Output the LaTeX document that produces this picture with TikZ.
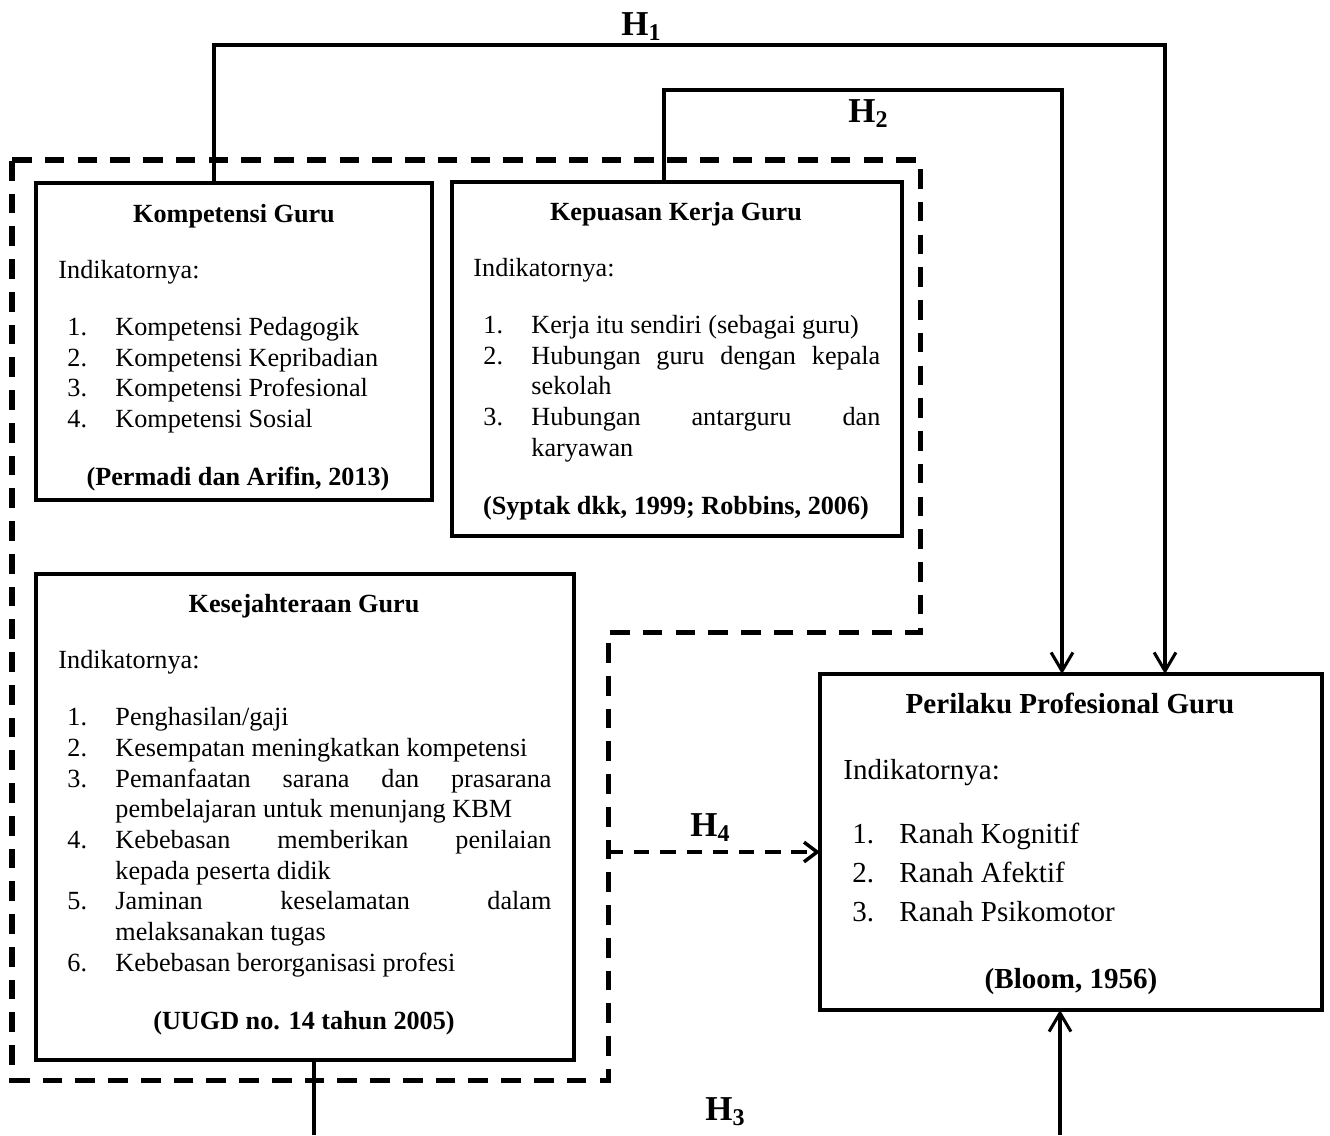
\documentclass[tikz,border=0pt]{standalone}
\usepackage{fontspec}
\setmainfont{Liberation Serif}
\usetikzlibrary{arrows.meta,fit}
\newcommand{\hsub}[1]{\raisebox{-0.17em}{\fontsize{11}{12}\selectfont\bfseries #1}}
\begin{document}
\begin{tikzpicture}[x=0.458pt,y=-0.458pt,
  box/.style={draw,line width=1.8pt,inner sep=0pt,outer sep=0pt},
  conn/.style={line width=1.4pt},
  tip/.style={-{Straight Barb[length=8.5pt,width=10pt]}},
  outline/.style={line width=2.3pt,dash pattern=on 9pt off 6pt},
  hdash/.style={line width=1.6pt,dash pattern=on 7pt off 5pt},
  txt/.style={anchor=base west,inner sep=0pt,font=\fontsize{12}{14}\selectfont},
  ttl/.style={anchor=base,inner sep=0pt,font=\fontsize{12}{14}\selectfont\bfseries},
  ptxt/.style={anchor=base west,inner sep=0pt,font=\fontsize{13.3}{16}\selectfont},
  pttl/.style={anchor=base,inner sep=0pt,font=\fontsize{13.3}{16}\selectfont\bfseries},
  hlab/.style={anchor=base west,inner sep=0pt,font=\fontsize{16}{18}\selectfont\bfseries}
]
\useasboundingbox (0,0) rectangle (1330,1135);

% dashed outline
\draw[outline] (12,160) -- (920,160) -- (920,632) -- (608,632) -- (608,1080) -- (12,1080) -- cycle;

% boxes
\node[box,fit={(36,183) (432,500)}] (komp) {};
\node[box,fit={(452,182) (902,536)}] (kep) {};
\node[box,fit={(36,574) (574,1060)}] (kes) {};
\node[box,fit={(820,674) (1322,1010)}] (peri) {};

% Kompetensi Guru
\node[ttl] (kompT) at (234,222) {Kompetensi Guru};
\node[txt] (kompI) at (58,278) {Indikatornya:};
\node[txt] (kompN1) at (67,335) {1.};
\node[txt] (kompA1) at (115,335) {Kompetensi Pedagogik};
\node[txt] (kompN2) at (67,366) {2.};
\node[txt] (kompA2) at (115,366) {Kompetensi Kepribadian};
\node[txt] (kompN3) at (67,396) {3.};
\node[txt] (kompA3) at (115,396) {Kompetensi Profesional};
\node[txt] (kompN4) at (67,427) {4.};
\node[txt] (kompA4) at (115,427) {Kompetensi Sosial};
\node[ttl] (kompC) at (238,485) {(Permadi dan Arifin, 2013)};

% Kepuasan Kerja Guru
\node[ttl] (kepT) at (676,220) {Kepuasan Kerja Guru};
\node[txt] (kepI) at (473,276) {Indikatornya:};
\node[txt] (kepN1) at (483,333) {1.};
\node[txt] (kepA1) at (531,333) {Kerja itu sendiri (sebagai guru)};
\node[txt] (kepN2) at (483,364) {2.};
\node[txt] (kepA2) at (531,364) {\hbox to 159.8pt{Hubungan\hfill guru\hfill dengan\hfill kepala}};
\node[txt] (kepB2) at (531,394) {sekolah};
\node[txt] (kepN3) at (483,425) {3.};
\node[txt] (kepA3) at (531,425) {\hbox to 159.8pt{Hubungan\hfill antarguru\hfill dan}};
\node[txt] (kepB3) at (531,456) {karyawan};
\node[ttl] (kepC) at (676,514) {(Syptak dkk, 1999; Robbins, 2006)};

% Kesejahteraan Guru
\node[ttl] (kesT) at (304,612) {Kesejahteraan Guru};
\node[txt] (kesI) at (58,668) {Indikatornya:};
\node[txt] (kesN1) at (67,725) {1.};
\node[txt] (kesA1) at (115,725) {Penghasilan/gaji};
\node[txt] (kesN2) at (67,756) {2.};
\node[txt] (kesA2) at (115,756) {Kesempatan meningkatkan kompetensi};
\node[txt] (kesN3) at (67,787) {3.};
\node[txt] (kesA3) at (115,787) {\hbox to 199.7pt{Pemanfaatan\hfill sarana\hfill dan\hfill prasarana}};
\node[txt] (kesB3) at (115,817) {pembelajaran untuk menunjang KBM};
\node[txt] (kesN4) at (67,848) {4.};
\node[txt] (kesA4) at (115,848) {\hbox to 199.7pt{Kebebasan\hfill memberikan\hfill penilaian}};
\node[txt] (kesB4) at (115,879) {kepada peserta didik};
\node[txt] (kesN5) at (67,909) {5.};
\node[txt] (kesA5) at (115,909) {\hbox to 199.7pt{Jaminan\hfill keselamatan\hfill dalam}};
\node[txt] (kesB5) at (115,940) {melaksanakan tugas};
\node[txt] (kesN6) at (67,971) {6.};
\node[txt] (kesA6) at (115,971) {Kebebasan berorganisasi profesi};
\node[ttl] (kesC) at (304,1029) {(UUGD no. 14 tahun 2005)};

% Perilaku Profesional Guru
\node[pttl] (periT) at (1070,713) {Perilaku Profesional Guru};
\node[ptxt] (periI) at (843,779) {Indikatornya:};
\node[ptxt] (periN1) at (852,843) {1.};
\node[ptxt] (periA1) at (899,843) {Ranah Kognitif};
\node[ptxt] (periN2) at (852,882) {2.};
\node[ptxt] (periA2) at (899,882) {Ranah Afektif};
\node[ptxt] (periN3) at (852,921) {3.};
\node[ptxt] (periA3) at (899,921) {Ranah Psikomotor};
\node[pttl] (periC) at (1071,988) {(Bloom, 1956)};

% connectors
\coordinate (h1a) at (214,45);
\coordinate (h1b) at (1165,45);
\draw[conn,tip] (komp.north -| h1a) -- (h1a) -- (h1b) -- (h1b |- peri.north);

\coordinate (h2a) at (664,90);
\coordinate (h2b) at (1062,90);
\draw[conn,tip] (kep.north -| h2a) -- (h2a) -- (h2b) -- (h2b |- peri.north);

\coordinate (h3a) at (314,1135);
\coordinate (h3b) at (1060,1135);
\draw[conn] (kes.south -| h3a) -- (h3a);
\draw[conn,tip] (h3b) -- (h3b |- peri.south);

\coordinate (h4a) at (608,852);
\draw[hdash,-{Straight Barb[length=6pt,width=9pt]}] (h4a) -- (h4a -| peri.west);

% labels
\node[hlab] (H1) at (621,35) {H\hsub{1}};
\node[hlab] (H2) at (848,122) {H\hsub{2}};
\node[hlab] (H3) at (705,1120) {H\hsub{3}};
\node[hlab] (H4) at (690,836) {H\hsub{4}};
\end{tikzpicture}
\end{document}
